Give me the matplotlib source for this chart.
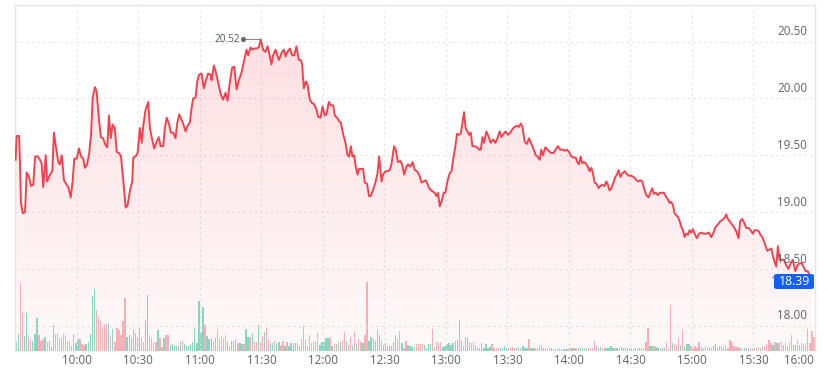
import numpy as np
import matplotlib
matplotlib.use('Agg')
import matplotlib.pyplot as plt
from matplotlib.patches import Polygon, FancyBboxPatch
from matplotlib.transforms import offset_copy

plt.rcParams['font.family'] = ['Open Sans', 'DejaVu Sans']

# ---------------- data ----------------
# minutes since 09:30 and trade price
price_min = [
    0.1, 0.6, 1.8, 2.2, 2.7, 3.6, 4.7, 5.5, 6.6, 7.6, 8.7, 9.6, 10.9, 12.0, 12.8, 13.6, 14.8, 15.5, 16.9, 18.0,
    18.8, 19.8, 20.9, 21.7, 22.6, 23.7, 25.0, 25.8, 27.0, 27.9, 28.7, 29.9, 31.0, 32.0, 33.1, 33.9, 35.0, 36.0, 36.9, 37.7,
    38.8, 39.6, 40.8, 41.7, 42.8, 43.7, 44.8, 45.6, 46.5, 47.4, 48.5, 49.4, 50.5, 51.5, 52.6, 53.8, 54.7, 55.9, 57.0, 57.5,
    58.6, 59.6, 60.7, 61.6, 62.3, 63.5, 64.8, 65.6, 66.7, 67.7, 68.9, 69.9, 70.8, 72.1, 72.9, 73.8, 74.9, 75.8, 77.0, 78.1,
    78.9, 79.9, 81.1, 81.8, 83.0, 84.0, 85.1, 85.9, 86.7, 87.9, 88.7, 89.6, 90.8, 91.9, 92.9, 94.0, 95.2, 95.7, 96.8, 97.8,
    98.9, 100.1, 101.3, 102.5, 103.5, 104.6, 105.7, 106.7, 107.9, 109.0, 110.3, 111.4, 112.7, 113.5, 114.7, 115.5, 116.5, 117.6, 118.7, 119.7,
    120.8, 122.0, 123.0, 124.1, 124.9, 125.7, 126.9, 127.9, 128.6, 129.8, 130.9, 131.8, 132.7, 133.9, 135.0, 136.0, 137.1, 138.2, 139.1, 139.8,
    140.7, 141.7, 142.5, 143.6, 144.7, 145.7, 146.9, 147.6, 148.8, 149.8, 150.9, 151.7, 152.9, 153.8, 155.0, 155.8, 156.9, 157.9, 158.7, 159.8,
    161.0, 162.0, 162.8, 163.6, 164.4, 165.2, 166.0, 166.9, 167.6, 168.8, 169.6, 170.4, 171.5, 172.5, 173.3, 174.5, 175.6, 176.6, 177.4, 178.6,
    179.3, 180.5, 181.5, 182.6, 183.4, 184.7, 185.5, 186.6, 187.8, 188.6, 189.6, 190.7, 191.5, 192.7, 193.7, 194.8, 195.9, 196.9, 198.1, 199.2,
    200.1, 201.0, 201.8, 202.9, 203.7, 204.5, 205.4, 206.1, 207.0, 208.1, 208.9, 209.7, 210.7, 211.8, 212.7, 213.5, 214.6, 215.4, 216.2, 217.2,
    218.0, 218.8, 219.6, 220.5, 221.3, 222.1, 222.9, 224.0, 225.2, 226.1, 227.0, 227.8, 228.6, 229.7, 230.9, 231.8, 233.0, 234.1, 235.1, 236.2,
    237.0, 238.2, 239.1, 240.3, 241.4, 242.4, 243.5, 244.6, 245.6, 246.5, 247.3, 248.4, 249.5, 250.5, 251.7, 252.8, 253.8, 254.6, 255.7, 256.5,
    257.3, 258.5, 259.5, 260.6, 261.4, 262.5, 263.5, 264.6, 265.8, 266.8, 267.9, 269.0, 270.0, 271.2, 272.3, 273.3, 274.1, 274.9, 275.7, 276.5,
    277.3, 278.1, 278.9, 280.1, 280.9, 281.7, 282.5, 283.4, 284.5, 285.3, 286.3, 287.4, 288.2, 289.0, 289.8, 290.7, 291.5, 292.6, 293.4, 294.2,
    295.1, 296.0, 297.2, 298.0, 299.1, 300.4, 301.5, 302.5, 303.6, 304.8, 305.8, 306.6, 307.7, 308.8, 309.7, 310.6, 311.4, 312.3, 313.4, 314.2,
    315.3, 316.3, 317.5, 318.3, 319.1, 319.9, 320.7, 321.5, 322.4, 323.1, 324.0, 324.8, 325.6, 326.4, 327.2, 328.0, 328.8, 329.7, 330.4, 331.3,
    332.4, 333.4, 334.5, 335.6, 337.0, 338.2, 339.4, 340.5, 341.5, 342.6, 343.8, 344.8, 345.9, 346.7, 347.5, 348.3, 349.5, 350.4, 351.6, 352.7,
    353.5, 354.5, 355.6, 356.5, 357.6, 358.6, 359.7, 360.5, 361.6, 362.6, 363.4, 364.3, 365.0, 365.9, 366.7, 367.8, 368.7, 369.4, 370.3, 371.1,
    371.9, 372.7, 373.8, 374.8, 376.0, 377.1, 378.1, 379.2, 380.4, 381.4, 382.5, 383.6, 384.6, 385.4, 386.5, 387.3, 388.3,
]
price = [
    19.46, 19.67, 19.67, 19.46, 19.08, 18.99, 19.00, 19.35, 19.31, 19.23, 19.24, 19.49, 19.49, 19.46, 19.43, 19.22, 19.50, 19.27, 19.33, 19.36,
    19.70, 19.57, 19.44, 19.42, 19.50, 19.28, 19.24, 19.22, 19.13, 19.27, 19.47, 19.47, 19.56, 19.49, 19.47, 19.39, 19.42, 19.52, 19.68, 20.01,
    20.10, 20.06, 19.81, 19.66, 19.65, 19.60, 19.57, 19.85, 19.65, 19.77, 19.74, 19.53, 19.52, 19.49, 19.28, 19.04, 19.06, 19.19, 19.27, 19.48,
    19.49, 19.52, 19.74, 19.61, 19.75, 19.90, 19.97, 19.74, 19.64, 19.56, 19.62, 19.66, 19.58, 19.58, 19.74, 19.83, 19.78, 19.70, 19.70, 19.65,
    19.78, 19.86, 19.81, 19.78, 19.71, 19.76, 19.79, 19.91, 20.00, 20.01, 20.15, 20.21, 20.22, 20.09, 20.16, 20.22, 20.21, 20.16, 20.29, 20.23,
    20.14, 20.04, 19.99, 20.05, 19.98, 20.14, 20.27, 20.28, 20.08, 20.16, 20.23, 20.32, 20.43, 20.38, 20.45, 20.43, 20.44, 20.44, 20.45, 20.52,
    20.43, 20.41, 20.46, 20.37, 20.30, 20.38, 20.43, 20.37, 20.34, 20.40, 20.43, 20.37, 20.41, 20.44, 20.38, 20.38, 20.46, 20.34, 20.34, 20.31,
    20.09, 20.15, 20.12, 19.99, 19.96, 19.95, 19.90, 19.84, 19.83, 19.93, 19.85, 19.86, 19.97, 19.94, 19.94, 19.85, 19.83, 19.80, 19.79, 19.69,
    19.61, 19.50, 19.49, 19.58, 19.49, 19.50, 19.40, 19.33, 19.38, 19.38, 19.38, 19.26, 19.25, 19.14, 19.14, 19.20, 19.26, 19.34, 19.49, 19.27,
    19.33, 19.36, 19.36, 19.37, 19.42, 19.58, 19.55, 19.44, 19.45, 19.42, 19.33, 19.40, 19.42, 19.40, 19.44, 19.37, 19.36, 19.33, 19.26, 19.27,
    19.28, 19.25, 19.21, 19.19, 19.18, 19.17, 19.14, 19.17, 19.05, 19.11, 19.17, 19.17, 19.27, 19.34, 19.36, 19.46, 19.58, 19.69, 19.68, 19.69,
    19.78, 19.88, 19.74, 19.71, 19.68, 19.70, 19.58, 19.58, 19.57, 19.55, 19.55, 19.66, 19.61, 19.71, 19.66, 19.61, 19.64, 19.61, 19.65, 19.71,
    19.66, 19.69, 19.71, 19.68, 19.70, 19.73, 19.75, 19.76, 19.75, 19.78, 19.75, 19.62, 19.60, 19.65, 19.60, 19.55, 19.50, 19.49, 19.46, 19.55,
    19.50, 19.57, 19.55, 19.53, 19.52, 19.52, 19.55, 19.58, 19.55, 19.55, 19.54, 19.55, 19.53, 19.49, 19.48, 19.48, 19.44, 19.42, 19.49, 19.43,
    19.44, 19.43, 19.41, 19.36, 19.39, 19.34, 19.26, 19.25, 19.21, 19.23, 19.24, 19.23, 19.27, 19.24, 19.19, 19.21, 19.25, 19.31, 19.33, 19.37,
    19.31, 19.34, 19.36, 19.34, 19.32, 19.32, 19.31, 19.29, 19.27, 19.28, 19.27, 19.21, 19.15, 19.13, 19.17, 19.21, 19.16, 19.17, 19.15, 19.17,
    19.17, 19.17, 19.13, 19.11, 19.08, 19.09, 19.06, 18.99, 18.97, 18.96, 18.92, 18.87, 18.84, 18.78, 18.81, 18.80, 18.84, 18.82, 18.85, 18.81,
    18.77, 18.81, 18.82, 18.81, 18.81, 18.82, 18.78, 18.82, 18.87, 18.89, 18.92, 18.93, 18.95, 18.98, 18.94, 18.92, 18.89, 18.87, 18.83, 18.77,
    18.92, 18.94, 18.90, 18.86, 18.86, 18.84, 18.81, 18.84, 18.84, 18.83, 18.80, 18.78, 18.75, 18.70, 18.66, 18.67, 18.68, 18.62, 18.56, 18.52,
    18.70, 18.58, 18.58, 18.58, 18.53, 18.50, 18.55, 18.58, 18.48, 18.53, 18.55, 18.55, 18.51, 18.48, 18.48, 18.45, 18.39,
]

# one-minute volume (thousand shares), 09:30-12:44 and 12:45-15:59
vol_am = [
    27, 50, 204, 112, 44, 112, 47, 30, 30, 50, 99, 47, 30, 34, 40, 27, 30, 12, 76, 50,
    53, 37, 37, 50, 47, 30, 30, 14, 49, 24, 34, 34, 20, 17, 20, 26, 49, 164, 184, 122,
    100, 90, 70, 80, 80, 83, 46, 64, 27, 69, 62, 47, 89, 159, 42, 47, 37, 62, 54, 40,
    67, 37, 27, 92, 167, 47, 37, 27, 27, 62, 37, 12, 37, 47, 47, 17, 20, 14, 14, 14,
    29, 29, 19, 14, 14, 20, 27, 69, 22, 149, 57, 132, 77, 45, 35, 37, 29, 37, 64, 34,
    44, 37, 46, 26, 14, 29, 29, 34, 22, 24, 19, 19, 64, 42, 42, 54, 26, 26, 76, 26,
    44, 57, 67, 32, 22, 22, 29, 22, 26, 17, 29, 14, 26, 14, 22, 22, 22, 22, 14, 34,
    75, 32, 14, 47, 22, 29, 29, 52, 17, 26, 26, 37, 37, 39, 14, 20, 19, 26, 26, 32,
    57, 29, 17, 41, 14, 59, 22, 34, 26, 22, 47, 207, 30, 40, 34, 30, 62, 47, 32, 17,
    24, 14, 14, 14, 26, 47, 39, 60, 24, 8, 29, 17, 14, 12, 12,
]
dir_am = ("ggrrggrrgg" "grrrgrgggr" "rrgrrrrggg" "grrrgggggr" "rrrrrgrgrr"
          "rrrrgggggg" "grrggrrrrg" "rrgrrggggr" "grgggggggg" "ggrgggrgrr"
          "rrrgrgggrg" "grggrgrrgr" "rgrrggrggr" "rg"
          "rgggg"
          "rgrrgrrrrr" "rgggggrgrg"
          "rgrrgrrgrg" "rrgrrggggg" "grggrggggr" "rgrrgggg")
vol_pm = [
    20, 20, 20, 20, 17, 7, 20, 20, 65, 12, 27, 24, 27, 12, 14, 20, 22, 17, 24, 29,
    32, 92, 29, 14, 42, 37, 27, 22, 27, 17, 7, 7, 22, 7, 20, 7, 12, 19, 9, 7,
    9, 7, 7, 14, 7, 9, 7, 10, 9, 7, 7, 9, 14, 9, 7, 35, 9, 9, 7, 9,
    14, 17, 9, 7, 9, 7, 7,
    4, 4, 4, 7, 4,
    4,
    4, 4, 7, 7, 7, 7, 9, 9, 9, 9, 7, 7, 7, 9, 29, 14, 7, 12, 9, 9,
    9, 7, 14, 7, 7, 9, 7, 12, 7, 9, 7, 7,
    7, 4, 9, 4, 7, 7, 9, 27, 69, 14, 14, 14, 12, 7, 7, 7, 7, 27, 4, 137,
    22, 20, 17, 37, 17, 62, 14, 20, 20, 14, 7, 14, 7, 27, 12, 9, 12, 7, 12, 7,
    14, 20, 9, 14, 14, 12, 17, 9, 32, 27, 14, 12, 12, 9, 9, 9, 7, 7, 7, 9,
    7, 7, 12, 9, 14, 12, 20, 32, 24, 17, 27, 24, 22, 27, 17, 22, 14, 27, 47, 17,
    17, 32, 17, 22, 20, 22, 65, 24, 60, 42,
]
dir_pm = ("rrrrggggrg" "rrrggggggg" "gggrggrrrr" "gggggggrrr" "rggggrrrrg"
          "grgggrggrr" "rrggrrg"
          "rggrg"
          "g"
          "rgrgrrgggr" "grrrrrggrr" "ggggrgrgrg" "gr"
          "grrrgrrrrg" "grggrggrrr" "grrrgrgggr" "rrrrgrrggr" "ggrggrgrrr"
          "rrrgrgrgrr" "grrgrrrrrg" "rgrrgrgrrg" "grgrrrrrrr")

tick_min = [30, 60, 90, 120, 150, 180, 210, 240, 270, 300, 330, 360, 390]
tick_lab = ['10:00', '10:30', '11:00', '11:30', '12:00', '12:30', '13:00',
            '13:30', '14:00', '14:30', '15:00', '15:30', '16:00']
ytick_vals = [18.0, 18.5, 19.0, 19.5, 20.0, 20.5]
ytick_labs = ['18.00', '18.50', '19.00', '19.50', '20.00', '20.50']
high_label = '20.52'
last_label = '18.39'

# ---------------- figure ----------------
W, H = 829, 372
fig = plt.figure(figsize=(W / 100, H / 100), dpi=100)
fig.patch.set_facecolor('white')
x0, x1, ytop, ybot = 15.4, 815.0, 5.0, 350.7
ax = fig.add_axes([x0 / W, 1 - ybot / H, (x1 - x0) / W, (ybot - ytop) / H])
ax.set_xlim(0, 390)
ax.set_ylim(17.780, 20.823)
ax.set_facecolor('none')

t = np.array(price_min)
p = np.array(price)
ymin, ymax = ax.get_ylim()

# gradient area under the line
img = np.zeros((256, 1, 4))
img[..., 0] = 242 / 255
img[..., 1] = 54 / 255
img[..., 2] = 69 / 255
img[..., 3] = np.linspace(0.17, 0.03, 256)[:, None]
im = ax.imshow(img, extent=[0, 390, ymin, ymax], aspect='auto', origin='upper', zorder=1)
poly = Polygon(np.column_stack([np.r_[t[0], t, t[-1]], np.r_[ymin, p, ymin]]),
               closed=True, facecolor='none', edgecolor='none')
ax.add_patch(poly)
im.set_clip_path(poly)

# grid
for v in ytick_vals:
    ax.axhline(v, color='#e3e3e3', lw=0.8, ls=(0, (2, 3)), zorder=0.5)
for m in tick_min[:-1]:
    ax.axvline(m, color='#e3e3e3', lw=0.8, ls=(0, (2, 3)), zorder=0.5)

# volume
vols = np.array(vol_am + vol_pm)
dirs = dir_am + dir_pm
n = min(len(vols), len(dirs))
vols = vols[:n]
dirs = dirs[:n]
vmin = np.arange(n) + 0.5
colors = ['#86dbc4' if d == 'g' else '#f9b3ba' for d in dirs]
axv = ax.twinx()
axv.set_ylim(0, 207 * (ybot - ytop) / 69.0)
axv.bar(vmin, vols, width=0.65, color=colors, linewidth=0, zorder=2)
axv.set_xlim(0, 390)
axv.axis('off')

# price line above the bars
ax.set_zorder(axv.get_zorder() + 1)
ax.plot(t, p, color='#ef4450', lw=1.4, zorder=5, solid_joinstyle='round')

# spines / ticks
for s in ['left', 'top', 'right']:
    ax.spines[s].set_color('#e6e6e6')
    ax.spines[s].set_linewidth(1.0)
ax.spines['bottom'].set_visible(False)
ax.set_xticks([])
ax.set_yticks([])

tick_color = '#5f6368'
fs = 8.4
for m, lab in zip(tick_min, tick_lab):
    xp = x0 + m * (x1 - x0) / 390
    ha = 'center'
    if m == 390:
        xp = x1 - 1
        ha = 'right'
    fig.text(xp / W, 1 - 364 / H, lab, ha=ha, va='baseline', fontsize=fs, color=tick_color)

ytr = offset_copy(ax.get_yaxis_transform(), fig=fig, x=0, y=6.3 * 0.72, units='points')
for v, lab in zip(ytick_vals, ytick_labs):
    ax.text((807 - x0) / (x1 - x0), v, lab, transform=ytr, ha='right', va='baseline',
            fontsize=fs, color=tick_color, zorder=6)

# high annotation
i_hi = int(np.argmax(p))
t_hi, p_hi = t[i_hi], p[i_hi]
ax.plot([t_hi - 18 * 390 / (x1 - x0), t_hi], [p_hi, p_hi], color='#8a8a8a', lw=0.8, zorder=6)
ax.plot([t_hi - 18 * 390 / (x1 - x0)], [p_hi], marker='o', ms=2.6, color='#666666', zorder=6)
txt_tr = offset_copy(ax.transData, fig=fig, x=-21 * 0.72, y=0, units='points')
ax.text(t_hi, p_hi, high_label, transform=txt_tr, ha='right', va='center',
        fontsize=7.3, color='#555a60', zorder=6)

# last price label (grey axis value partly hidden behind the blue badge)
ylast = 1 - 281.5 / H
fig.text(801 / W, ylast, last_label, ha='right', va='center', fontsize=fs, color=tick_color)
box = FancyBboxPatch((774 / W, 1 - 289 / H), 40 / W, 15 / H,
                     boxstyle='round,pad=0,rounding_size=0.004',
                     transform=fig.transFigure, facecolor='#1560f2', edgecolor='none', zorder=10)
fig.patches.append(box)
fig.text(794 / W, ylast, last_label, ha='center', va='center', fontsize=8.8,
         color='white', zorder=11)

fig.savefig('out.png', dpi=100)
